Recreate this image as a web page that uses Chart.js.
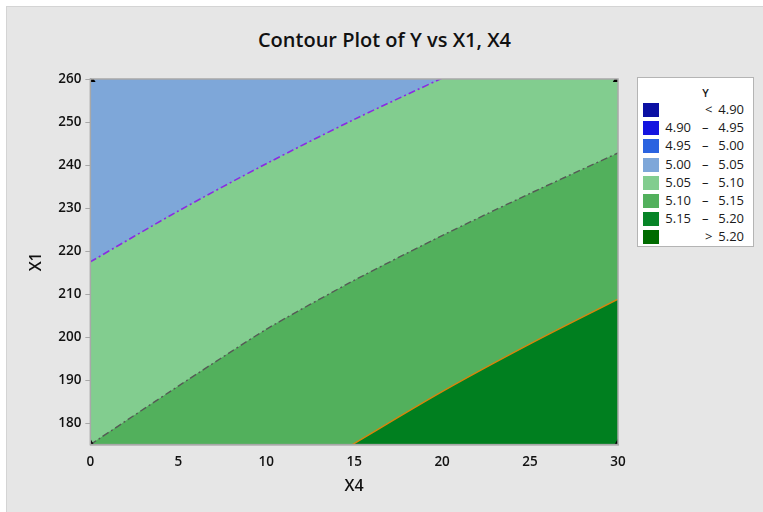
<!DOCTYPE html>
<html>
<head>
<meta charset="utf-8">
<script src="https://cdn.jsdelivr.net/npm/chart.js@4.4.0/dist/chart.umd.min.js"></script>
<style>
  html, body { margin: 0; padding: 0; background: #ffffff; }
  #frame {
    position: absolute; left: 6px; top: 6px; width: 757px; height: 506px;
    background: #e6e6e6; border-top: 1px solid #d4d4d4; border-left: 1px solid #d4d4d4;
    box-sizing: border-box;
  }
  #wrap { position: absolute; left: 0; top: 0; width: 763px; height: 512px; }
  #title {
    position: absolute; left: 6px; width: 757px; top: 26px; text-align: center;
    font-family: "Open Sans", "Noto Sans", sans-serif; font-size: 20px; font-weight: 600; color: #111;
  }
  #legend {
    position: absolute; left: 637px; top: 77px; width: 117px; height: 170px;
    background: #fff; border: 1px solid #b4b4b4; box-sizing: border-box;
    font-family: "Open Sans", "Noto Sans", sans-serif; color: #1a1a1a;
  }
  #legend .hd { text-align: center; font-size: 11px; font-weight: 600; margin-top: 7px; height: 17px; padding-left: 20px; }
  #legend .row { position: relative; height: 18.2px; font-size: 13px; }
  #legend .sw { position: absolute; left: 5px; top: 1px; width: 16px; height: 14px; }
  #legend .lo { position: absolute; right: 62px; top: -2px; }
  #legend .dash { position: absolute; left: 64px; top: -2px; }
  #legend .hi { position: absolute; right: 9px; top: -2px; }
</style>
</head>
<body>
<div id="frame"></div>
<div id="title">Contour Plot of Y vs X1, X4</div>
<div id="wrap"><canvas id="c" width="763" height="512"></canvas></div>
<div id="legend"></div>
<script>
// ---- contour data (X4, X1) ----
const x4Ticks = [0, 5, 10, 15, 20, 25, 30];
const x1Ticks = [180, 190, 200, 210, 220, 230, 240, 250, 260];

// Y = 5.05 contour
const contour505 = [[0, 217.5], [5, 229.3], [10, 240.3], [15, 250.6], [20, 260.2]];
// Y = 5.10 contour
const contour510 = [[0, 175], [5, 188.6], [10, 201.8], [15, 213.2], [20, 223.6], [25, 233.4], [30, 242.8]];
// Y = 5.15 contour
const contour515 = [[14.9, 175], [20, 187.3], [25, 198.4], [30, 208.8]];
// top edge of the region
const topEdge = [[0, 260], [30, 260]];
// design points at the corners
const cornerPoints = [[0, 175], [0, 260], [30, 175], [30, 260]];

// legend
const legendLow = ['', '4.90', '4.95', '5.00', '5.05', '5.10', '5.15', ''];
const legendHigh = ['4.90', '4.95', '5.00', '5.05', '5.10', '5.15', '5.20', '5.20'];
const legendSign = ['<', '–', '–', '–', '–', '–', '–', '>'];
const legendColors = ['#0b10a3', '#1414e0', '#2a63e0', '#7ea7d9', '#82cd8f', '#52b05c', '#078427', '#006b00'];

const toXY = arr => arr.map(p => ({ x: p[0], y: p[1] }));

// legend html
const lg = document.getElementById('legend');
let html = '<div class="hd">Y</div>';
legendColors.forEach((c, i) => {
  const lo = legendLow[i];
  html += '<div class="row"><div class="sw" style="background:' + c + '"></div>' +
    (lo ? '<span class="lo">' + lo + '</span><span class="dash">' + legendSign[i] + '</span>'
        : '<span class="dash" style="left:67px">' + legendSign[i] + '</span>') +
    '<span class="hi">' + legendHigh[i] + '</span></div>';
});
lg.innerHTML = html;

// frame around the plot area
const frameBox = {
  id: 'frameBox',
  afterDatasetsDraw(chart) {
    const a = chart.chartArea, ctx = chart.ctx;
    ctx.save();
    ctx.strokeStyle = '#a8a8a8';
    ctx.lineWidth = 1.5;
    ctx.strokeRect(a.left, a.top, a.right - a.left, a.bottom - a.top);
    ctx.restore();
  }
};

const font = "'Open Sans', 'Noto Sans', sans-serif";

new Chart(document.getElementById('c'), {
  type: 'line',
  data: {
    datasets: [
      {
        type: 'scatter', data: toXY(cornerPoints), pointStyle: 'triangle',
        pointRadius: 6, backgroundColor: '#000', borderWidth: 0, showLine: false
      },
      {
        data: toXY(contour505), borderColor: '#8a2be2', borderWidth: 1.6,
        borderDash: [7, 3, 2, 3], fill: 'end', backgroundColor: '#7ea7d9',
        pointRadius: 0, tension: 0.3
      },
      {
        data: toXY(contour515), borderColor: '#d7840c', borderWidth: 1.4,
        fill: 'start', backgroundColor: '#007f1f', pointRadius: 0, tension: 0.3
      },
      {
        data: toXY(contour510), borderColor: '#555a55', borderWidth: 1.4,
        borderDash: [7, 3, 2, 3], fill: 'start', backgroundColor: '#52b05c',
        pointRadius: 0, tension: 0.2
      },
      {
        data: toXY(topEdge), borderWidth: 0, fill: 'start',
        backgroundColor: '#82cd8f', pointRadius: 0
      }
    ]
  },
  options: {
    responsive: false,
    animation: false,
    layout: { padding: { left: 23, right: 145, top: 79, bottom: 12 } },
    plugins: {
      legend: { display: false },
      tooltip: { enabled: false }
    },
    scales: {
      x: {
        type: 'linear', min: 0, max: 30,
        afterBuildTicks: ax => { ax.ticks = x4Ticks.map(v => ({ value: v })); },
        grid: { display: false, drawOnChartArea: false, drawTicks: true, tickLength: 5, color: '#a8a8a8' },
        border: { display: true, color: '#a8a8a8', width: 1.5 },
        ticks: { color: '#111', font: { family: font, size: 13.5, weight: '600' }, padding: 4 },
        title: { display: true, text: 'X4', color: '#111', font: { family: font, size: 16, weight: '600' }, padding: { top: 3 } }
      },
      y: {
        min: 175, max: 260,
        afterBuildTicks: ax => { ax.ticks = x1Ticks.map(v => ({ value: v })); },
        grid: { display: true, drawOnChartArea: false, drawTicks: true, tickLength: 5, color: '#a8a8a8' },
        border: { display: true, color: '#a8a8a8', width: 1.5 },
        ticks: { color: '#111', font: { family: font, size: 13.5, weight: '600' }, padding: 4 },
        title: { display: true, text: 'X1', color: '#111', font: { family: font, size: 16, weight: '600' }, padding: { bottom: 8 } }
      }
    }
  },
  plugins: [frameBox]
});
</script>
</body>
</html>
